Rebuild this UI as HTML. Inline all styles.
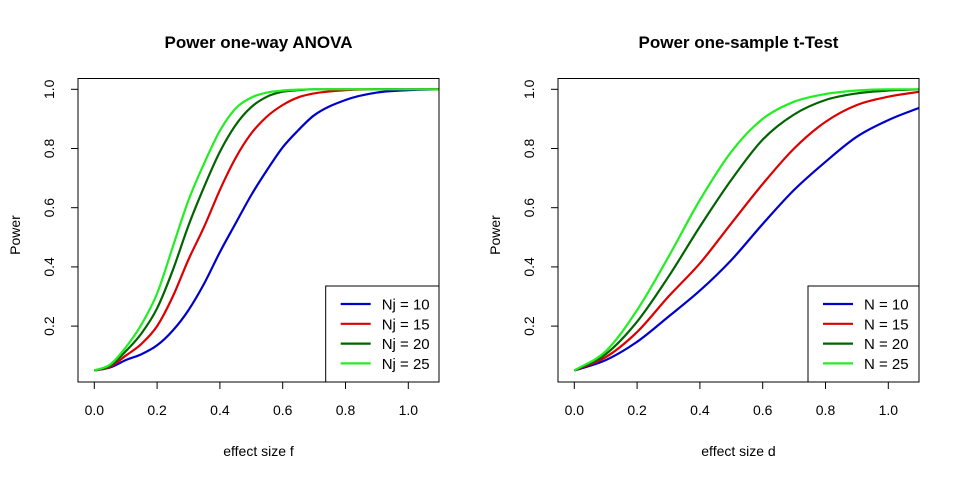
<!DOCTYPE html>
<html><head><meta charset="utf-8"><style>
body{margin:0;background:#fff}
svg{display:block;font-family:"Liberation Sans",Arial,sans-serif}
</style></head><body>
<svg id="chart" width="960" height="480" viewBox="0 0 960 480">
<rect width="960" height="480" fill="#fff"/>
</svg>
<script>
const xs1 = [0,0.05,0.1,0.15,0.2,0.25,0.3,0.35,0.4,0.45,0.5,0.55,0.6,0.65,0.7,0.8,0.9,1.0,1.1];
const anovaN10 = [0.05,0.06,0.085,0.105,0.135,0.185,0.254,0.344,0.45,0.547,0.643,0.727,0.804,0.862,0.912,0.964,0.989,0.997,1.0];
const anovaN15 = [0.05,0.062,0.10,0.14,0.20,0.30,0.425,0.536,0.66,0.768,0.851,0.908,0.947,0.973,0.986,0.997,1.0,1.0,1.0];
const anovaN20 = [0.05,0.066,0.115,0.175,0.26,0.389,0.54,0.671,0.789,0.879,0.94,0.975,0.992,0.997,1.0,1.0,1.0,1.0,1.0];
const anovaN25 = [0.05,0.07,0.128,0.205,0.31,0.468,0.625,0.75,0.86,0.935,0.972,0.989,0.996,0.999,1.0,1.0,1.0,1.0,1.0];
const xs2 = [0,0.1,0.2,0.3,0.4,0.5,0.6,0.7,0.8,0.9,1.0,1.1];
const tN10 = [0.05,0.085,0.147,0.232,0.32,0.423,0.545,0.66,0.755,0.84,0.896,0.938];
const tN15 = [0.05,0.095,0.18,0.30,0.412,0.547,0.68,0.80,0.89,0.947,0.975,0.992];
const tN20 = [0.05,0.105,0.215,0.367,0.536,0.694,0.83,0.915,0.964,0.986,0.996,1.0];
const tN25 = [0.05,0.115,0.254,0.434,0.626,0.789,0.90,0.958,0.984,0.996,1.0,1.0];
const xTicks = ["0.0","0.2","0.4","0.6","0.8","1.0"];
const yTicks = ["0.2","0.4","0.6","0.8","1.0"];
const colors = ["#0000cc","#dd0000","#006400","#22ee22"];

const NS="http://www.w3.org/2000/svg";
const svg=document.getElementById('chart');
function mk(tag,attrs,parent,text){const e=document.createElementNS(NS,tag);for(const k in attrs)e.setAttribute(k,attrs[k]);if(text!==undefined)e.textContent=text;(parent||svg).appendChild(e);return e;}

function smoothPath(pts){
  // monotone cubic (Fritsch-Carlson)
  const n=pts.length, dx=[], m=[], t=[];
  for(let i=0;i<n-1;i++){dx[i]=pts[i+1][0]-pts[i][0];m[i]=(pts[i+1][1]-pts[i][1])/dx[i];}
  t[0]=m[0];t[n-1]=m[n-2];
  for(let i=1;i<n-1;i++){t[i]=(m[i-1]*m[i]<=0)?0:(m[i-1]+m[i])/2;}
  for(let i=0;i<n-1;i++){if(m[i]===0){t[i]=0;t[i+1]=0;continue;}
    const a=t[i]/m[i],b=t[i+1]/m[i],s=a*a+b*b;if(s>9){const k=3/Math.sqrt(s);t[i]=k*a*m[i];t[i+1]=k*b*m[i];}}
  let d='M'+pts[0][0].toFixed(1)+','+pts[0][1].toFixed(1);
  for(let i=0;i<n-1;i++){const h=dx[i]/3;
    d+=' C'+(pts[i][0]+h).toFixed(1)+','+(pts[i][1]+t[i]*h).toFixed(1)+' '+(pts[i+1][0]-h).toFixed(1)+','+(pts[i+1][1]-t[i+1]*h).toFixed(1)+' '+pts[i+1][0].toFixed(1)+','+pts[i+1][1].toFixed(1);}
  return d;
}

function panel(left,right,title,xtitle,xs,series,labels,legLeft,idp){
  const top=78.5,bottom=382;
  const x0=left+16.3, xScale=v=>x0+v*314;
  const yScale=v=>89.3+(1-v)*296;
  const g=mk('g',{});
  
  
  const cid='clip-'+idp;
  const cp=mk('clipPath',{id:cid},g);mk('rect',{x:left,y:top,width:right-left,height:bottom-top},cp);
  const t=mk('text',{x:(left+right)/2,y:48,'text-anchor':'middle','font-size':'17','font-weight':'bold'},g,title);
  
  
  const lg=mk('g',{'clip-path':'url(#'+cid+')'},g);
  series.forEach((s,i)=>{
    const pts=s.map((v,j)=>[xScale(xs[j]),yScale(v)]);
    const p=mk('path',{d:smoothPath(pts),fill:'none',stroke:colors[i],'stroke-width':'2.2','stroke-linejoin':'round'},lg);
    
    
  });
  const lb=mk('g',{},g);
  
  
  mk('rect',{x:legLeft,y:286,width:right-legLeft,height:96,fill:'#fff',stroke:'#000','stroke-width':'1'},lb);
  labels.forEach((l,i)=>{
    const y=304+i*19.8;
    mk('line',{x1:legLeft+15,x2:legLeft+45,y1:y,y2:y,stroke:colors[i],'stroke-width':'2.2'},lb);
    const tx=mk('text',{x:legLeft+56,y:y+5.5,'font-size':'15'},lb,l);
    
    
  });
  mk('rect',{x:left,y:top,width:right-left,height:bottom-top,fill:'none',stroke:'#000','stroke-width':'1'},g);
  const xa=mk('g',{},g);
  
  
  mk('line',{x1:xScale(0),x2:xScale(1),y1:bottom,y2:bottom,stroke:'#000'},xa);
  xTicks.forEach(l=>{const x=xScale(parseFloat(l));mk('line',{x1:x,x2:x,y1:bottom,y2:bottom+7,stroke:'#000'},xa);mk('text',{x:x,y:415,'text-anchor':'middle','font-size':'14'},xa,l);});
  const xt=mk('text',{x:(left+right)/2,y:456,'text-anchor':'middle','font-size':'14'},g,xtitle);
  
  
  const ya=mk('g',{},g);
  
  
  mk('line',{x1:left,x2:left,y1:yScale(0.2),y2:yScale(1),stroke:'#000'},ya);
  yTicks.forEach(l=>{const y=yScale(parseFloat(l));mk('line',{x1:left-7,x2:left,y1:y,y2:y,stroke:'#000'},ya);mk('text',{x:left-24,y:y,'text-anchor':'middle','font-size':'14',transform:'rotate(-90 '+(left-24)+' '+y+')'},ya,l);});
  const yt=mk('text',{x:left-58,y:235,'text-anchor':'middle','font-size':'14',transform:'rotate(-90 '+(left-58)+' 235)'},g,'Power');
  
  
}
panel(78,439,'Power one-way ANOVA','effect size f',xs1,[anovaN10,anovaN15,anovaN20,anovaN25],['Nj = 10','Nj = 15','Nj = 20','Nj = 25'],325.7,'anova');
panel(558,919,'Power one-sample t-Test','effect size d',xs2,[tN10,tN15,tN20,tN25],['N = 10','N = 15','N = 20','N = 25'],808,'ttest');
</script>
</body></html>
